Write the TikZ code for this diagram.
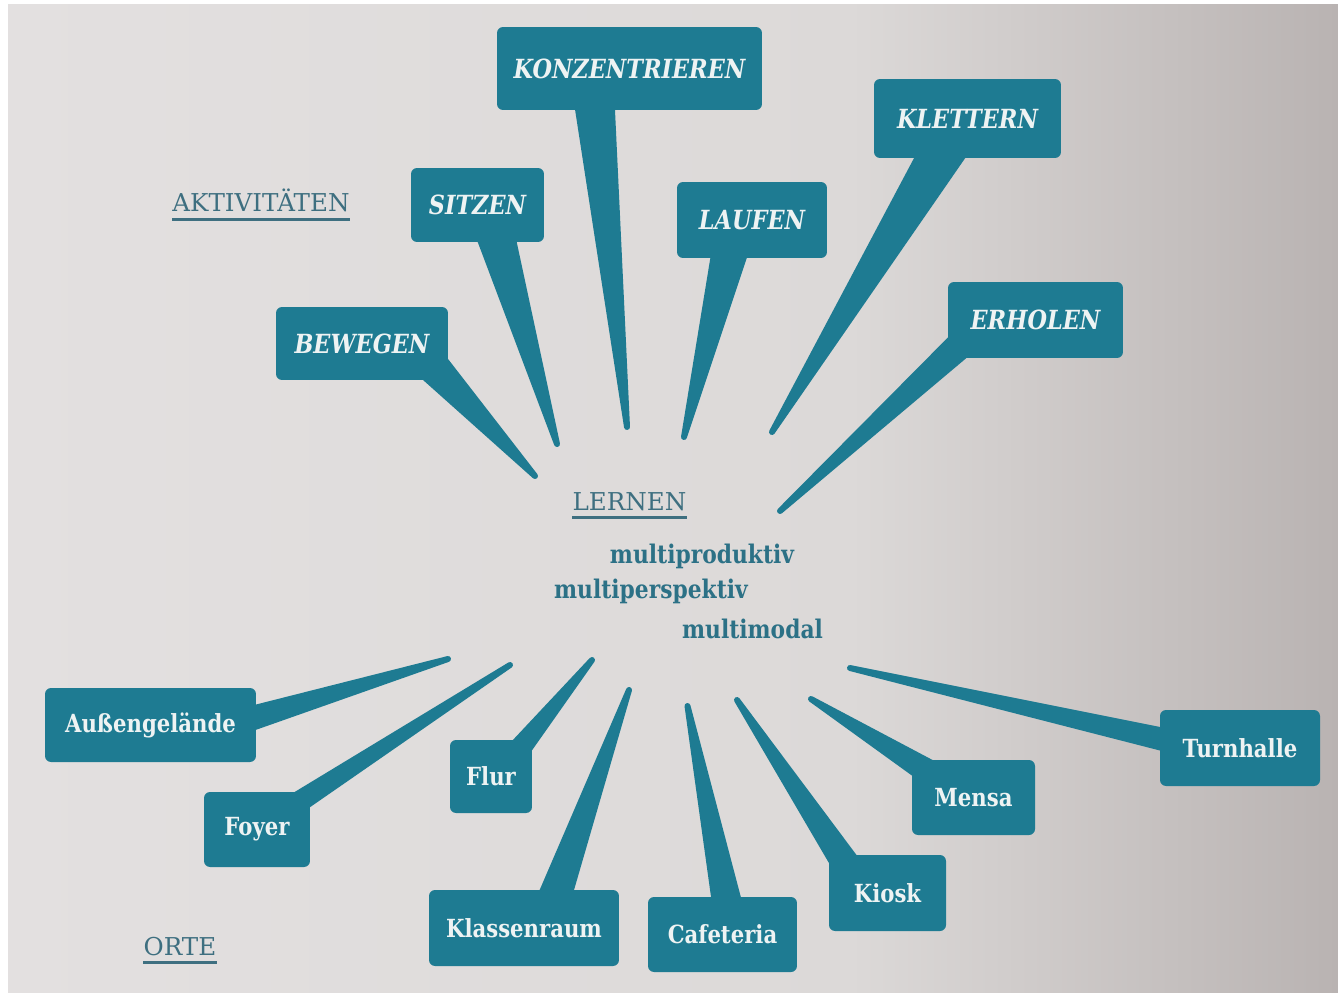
\documentclass[tikz,border=0pt]{standalone}
\usepackage{fontspec}
\setmainfont{DejaVu Serif}
\newfontfamily\slabfont[FakeStretch=0.85]{DejaVu Serif}
\usetikzlibrary{calc}

\definecolor{boxteal}{HTML}{1E7B92}
\definecolor{boxtext}{HTML}{EEF3F3}
\definecolor{headtext}{HTML}{3E6F80}
\definecolor{multitext}{HTML}{2C7186}
\definecolor{paperl}{HTML}{E3E0E0}
\definecolor{paperm}{HTML}{DCD9D8}
\definecolor{paperr}{HTML}{B9B3B2}

\pgfdeclarelayer{paper}
\pgfdeclarelayer{tails}
\pgfsetlayers{paper,tails,main}

\begin{document}
\begin{tikzpicture}[x=0.02cm,y=-0.02cm,
  place/.style={fill=boxteal,text=boxtext,rounded corners=0.12cm,inner sep=0pt,
    font=\slabfont\bfseries\fontsize{14.2}{16}\selectfont},
  activity/.style={place,font=\slabfont\bfseries\itshape\fontsize{15}{17}\selectfont},
  tail/.style={fill=boxteal,draw=boxteal,line width=3.4pt,line join=round},
  head/.style={text=headtext,inner sep=0pt,anchor=base,font=\fontsize{14}{16}\selectfont},
  headline/.style={draw=headtext,line width=1.6pt},
  multi/.style={text=multitext,inner sep=0pt,anchor=base,font=\slabfont\bfseries\fontsize{14.6}{16}\selectfont}]

\begin{pgfonlayer}{paper}
\fill[white] (0,0) rectangle (1338,993);
\shade[left color=paperl,right color=paperm] (8,5) rectangle (850,993);
\shade[left color=paperm,right color=paperr] (850,5) rectangle (1338,993);
\end{pgfonlayer}

% activities
\node[activity,minimum width=5.3cm,minimum height=1.66cm] (kon) at (629.5,68.5) {KONZENTRIEREN};
\node[activity,minimum width=2.66cm,minimum height=1.48cm] (sitzen) at (477.5,205) {SITZEN};
\node[activity,minimum width=3cm,minimum height=1.52cm] (laufen) at (752,220) {LAUFEN};
\node[activity,minimum width=3.74cm,minimum height=1.58cm] (klettern) at (967.5,118.5) {KLETTERN};
\node[activity,minimum width=3.44cm,minimum height=1.46cm] (bewegen) at (362,343.5) {BEWEGEN};
\node[activity,minimum width=3.5cm,minimum height=1.52cm] (erholen) at (1035.5,320) {ERHOLEN};

% places
\node[place,minimum width=4.22cm,minimum height=1.48cm] (aussen) at (150.5,725) {Außengelände};
\node[place,minimum width=2.12cm,minimum height=1.5cm] (foyer) at (257,829.5) {Foyer};
\node[place,minimum width=1.64cm,minimum height=1.46cm] (flur) at (491,776.5) {Flur};
\node[place,minimum width=3.8cm,minimum height=1.52cm] (klassen) at (524,928) {Klassenraum};
\node[place,minimum width=2.98cm,minimum height=1.5cm] (cafe) at (722.5,934.5) {Cafeteria};
\node[place,minimum width=2.34cm,minimum height=1.52cm] (kiosk) at (887.5,893) {Kiosk};
\node[place,minimum width=2.46cm,minimum height=1.5cm] (mensa) at (973.5,797.5) {Mensa};
\node[place,minimum width=3.2cm,minimum height=1.52cm] (turn) at (1240,748) {Turnhalle};

% tips of the tails
\coordinate (kon-tip) at (627,427);
\coordinate (sitzen-tip) at (557,444);
\coordinate (laufen-tip) at (684,437);
\coordinate (klettern-tip) at (772,432);
\coordinate (bewegen-tip) at (535,476);
\coordinate (erholen-tip) at (780,511);
\coordinate (aussen-tip) at (448,659);
\coordinate (foyer-tip) at (510,665);
\coordinate (flur-tip) at (592,660);
\coordinate (klassen-tip) at (629,690);
\coordinate (cafe-tip) at (687.5,706);
\coordinate (kiosk-tip) at (737,700);
\coordinate (mensa-tip) at (811,699);
\coordinate (turn-tip) at (850,668);

\begin{pgfonlayer}{tails}
\foreach \b/\ax/\ay/\bx/\by in {kon/-53/31/-18/31,sitzen/0/28/34/27,laufen/-37/28/-5/28,
    klettern/-45/30/0/31,bewegen/56/28/78/10,erholen/-78/12/-63/29,
    aussen/96/-15/96/5,foyer/31/-30/43/-19,flur/18/-28/33/-20,klassen/15/-29/44/-28,
    cafe/-7/-27/18/-27,kiosk/-51/-23/-28/-29,mensa/-51/-18/-35/-31,turn/-70/-16/-70/2}
  \filldraw[tail] ($(\b)+(\ax,\ay)$) -- ($(\b)+(\bx,\by)$) -- (\b-tip) -- cycle;
\end{pgfonlayer}

% headings
\node[head] (akt) at (261,212) {AKTIVITÄTEN};
\node[head] (lernen) at (629.5,510) {LERNEN};
\node[head] (orte) at (180,955) {ORTE};
\foreach \h in {akt,lernen,orte}
  \draw[headline] ([yshift=-4.2pt]\h.base west) -- ([yshift=-4.2pt]\h.base east);

\node[multi] (prod) at (702,563) {multiproduktiv};
\node[multi] (persp) at (651,598) {multiperspektiv};
\node[multi] (modal) at (752.5,638) {multimodal};
\end{tikzpicture}
\end{document}
